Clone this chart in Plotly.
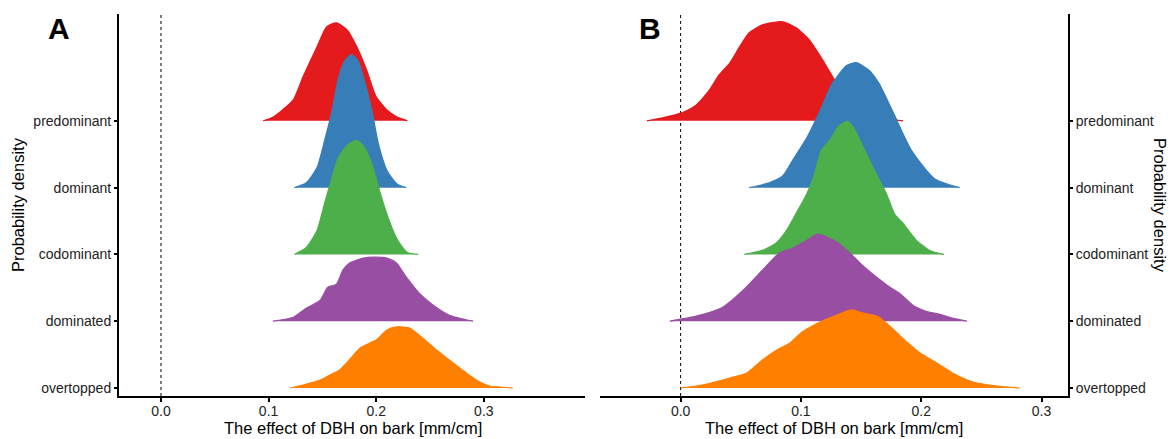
import plotly.graph_objects as go

categories = ["overtopped", "dominated", "codominant", "dominant", "predominant"]
colors = {"predominant": "#E41A1C", "dominant": "#377EB8", "codominant": "#4DAF4A",
          "dominated": "#984EA3", "overtopped": "#FF7F00"}
x_ticks = [0.0, 0.1, 0.2, 0.3]

# Panel A: effect values (x) and ridge density heights (relative units)
A_predominant_x = [0.095, 0.103, 0.113, 0.123, 0.132, 0.138, 0.145, 0.154, 0.163, 0.173, 0.182, 0.191, 0.200, 0.210, 0.219, 0.229]
A_predominant_d = [0, 3, 11, 21, 44, 58, 74, 94, 98, 91, 74, 51, 24, 11, 4, 0]
A_dominant_x = [0.124, 0.135, 0.145, 0.152, 0.159, 0.165, 0.171, 0.177, 0.183, 0.189, 0.196, 0.202, 0.210, 0.219, 0.228]
A_dominant_d = [0, 5, 20, 47, 77, 110, 127, 133, 127, 107, 77, 44, 17, 4, 0]
A_codominant_x = [0.124, 0.135, 0.145, 0.152, 0.159, 0.165, 0.173, 0.182, 0.189, 0.197, 0.203, 0.211, 0.220, 0.229, 0.239]
A_codominant_d = [0, 7, 24, 51, 77, 97, 109, 114, 107, 87, 64, 37, 14, 2, 0]
A_dominated_x = [0.104, 0.123, 0.135, 0.148, 0.155, 0.163, 0.169, 0.175, 0.188, 0.197, 0.210, 0.219, 0.228, 0.240, 0.253, 0.268, 0.290]
A_dominated_d = [0, 4, 13, 21, 34, 37, 51, 58, 63, 64, 63, 58, 44, 28, 16, 6, 0]
A_overtopped_x = [0.120, 0.132, 0.148, 0.157, 0.166, 0.175, 0.185, 0.194, 0.200, 0.210, 0.219, 0.231, 0.243, 0.256, 0.268, 0.280, 0.293, 0.305, 0.315, 0.327]
A_overtopped_d = [0, 3, 8, 13, 18, 28, 40, 45, 48, 58, 61, 60, 50, 38, 28, 18, 8, 2, 1, 0]

# Panel B
B_predominant_x = [-0.028, -0.015, 0.001, 0.013, 0.024, 0.032, 0.041, 0.049, 0.057, 0.068, 0.085, 0.096, 0.107, 0.118, 0.130, 0.140, 0.150, 0.160, 0.170, 0.185]
B_predominant_d = [0, 3, 8, 16, 31, 46, 58, 74, 88, 96, 99, 93, 81, 61, 37, 21, 11, 5, 2, 0]
B_dominant_x = [0.057, 0.074, 0.085, 0.093, 0.105, 0.116, 0.126, 0.138, 0.146, 0.157, 0.165, 0.176, 0.192, 0.211, 0.232]
B_dominant_d = [0, 5, 12, 27, 50, 77, 104, 122, 125, 117, 104, 77, 37, 9, 0]
B_codominant_x = [0.053, 0.068, 0.080, 0.088, 0.096, 0.105, 0.111, 0.117, 0.124, 0.132, 0.139, 0.145, 0.153, 0.161, 0.171, 0.178, 0.185, 0.196, 0.207, 0.219]
B_codominant_d = [0, 4, 12, 24, 41, 61, 79, 104, 114, 129, 133, 124, 104, 84, 61, 40, 31, 14, 4, 0]
B_dominated_x = [-0.009, 0.013, 0.035, 0.052, 0.068, 0.082, 0.093, 0.105, 0.114, 0.130, 0.140, 0.151, 0.163, 0.174, 0.182, 0.193, 0.204, 0.215, 0.226, 0.238]
B_dominated_d = [0, 5, 14, 31, 51, 68, 73, 81, 87, 79, 69, 56, 44, 34, 28, 16, 10, 7, 3, 0]
B_overtopped_x = [0.000, 0.018, 0.041, 0.055, 0.068, 0.080, 0.091, 0.101, 0.116, 0.130, 0.142, 0.151, 0.163, 0.171, 0.180, 0.188, 0.199, 0.213, 0.226, 0.243, 0.263, 0.282]
B_overtopped_d = [0, 3, 10, 15, 28, 38, 45, 56, 66, 73, 78, 75, 72, 65, 55, 46, 35, 25, 15, 6, 2, 0]

panels = {
    "A": {"predominant": (A_predominant_x, A_predominant_d), "dominant": (A_dominant_x, A_dominant_d),
          "codominant": (A_codominant_x, A_codominant_d), "dominated": (A_dominated_x, A_dominated_d),
          "overtopped": (A_overtopped_x, A_overtopped_d)},
    "B": {"predominant": (B_predominant_x, B_predominant_d), "dominant": (B_dominant_x, B_dominant_d),
          "codominant": (B_codominant_x, B_codominant_d), "dominated": (B_dominated_x, B_dominated_d),
          "overtopped": (B_overtopped_x, B_overtopped_d)},
}

SCALE = 1 / 66.75  # density units -> category spacing

W, H = 1176, 439
OFF = 8  # page body margin


def px(s):
    return (s - OFF) / W


def py(s):
    return (H - (s - OFF)) / H


fig = go.Figure()
axes = {"A": ("x", "y"), "B": ("x2", "y2")}
for p, ridges in panels.items():
    xa, ya = axes[p]
    for cat in reversed(categories):  # top ridges drawn first
        xs, ds = ridges[cat]
        base = categories.index(cat)
        ys = [base + d * SCALE for d in ds]
        fig.add_trace(go.Scatter(x=xs, y=ys, mode="lines", fill="toself",
                                 fillcolor=colors[cat],
                                 line=dict(color=colors[cat], width=1.2, shape="spline", smoothing=0.6),
                                 xaxis=xa, yaxis=ya, showlegend=False, hoverinfo="skip"))

FONT = "Liberation Sans, Arial, Helvetica"
xax_common = dict(showline=True, linecolor="black", linewidth=2, ticks="outside", ticklen=4,
                  tickcolor="black", tickwidth=1.5, showgrid=False, zeroline=False, automargin=False,
                  ticklabelstandoff=-3,
                  tickfont=dict(family=FONT, size=14, color="#222222"))
yax_common = dict(showline=True, linecolor="black", linewidth=2, ticks="outside", ticklen=3,
                  tickcolor="black", tickwidth=1.5, showgrid=False, zeroline=False, automargin=False,
                  tickfont=dict(family=FONT, size=14, color="#222222"))
ydom = [py(396), py(14)]
yrange = [-0.12, 5.60]

fig.update_layout(
    width=W, height=H, margin=dict(l=0, r=0, t=0, b=0, autoexpand=False),
    plot_bgcolor="white", paper_bgcolor="white",
    xaxis=dict(domain=[px(119), px(585)], range=[-0.039, 0.394], tickvals=x_ticks,
               tickformat=".1f", anchor="y", **xax_common),
    yaxis=dict(domain=ydom, range=yrange, tickvals=list(range(len(categories))), ticktext=categories,
               anchor="x", side="left", **yax_common),
    xaxis2=dict(domain=[px(600), px(1068)], range=[-0.067, 0.322], tickvals=x_ticks,
                tickformat=".1f", anchor="y2", **xax_common),
    yaxis2=dict(domain=ydom, range=yrange, tickvals=list(range(len(categories))), ticktext=categories,
                anchor="x2", side="right", **yax_common),
)

for xa in ["x", "x2"]:
    fig.add_shape(type="line", xref=xa, yref="paper", x0=0, x1=0, y0=ydom[0], y1=ydom[1],
                  line=dict(color="black", width=1, dash="dot"), layer="below")

title_font = dict(family=FONT, size=16.5, color="black")
ann = dict(xref="paper", yref="paper", showarrow=False, xanchor="center", yanchor="middle")
fig.add_annotation(text="The effect of DBH on bark [mm/cm]", x=px(353), y=py(428), font=title_font, **ann)
fig.add_annotation(text="The effect of DBH on bark [mm/cm]", x=px(834), y=py(428), font=title_font, **ann)
fig.add_annotation(text="Probability density", x=px(18), y=py(205), textangle=-90, font=title_font, **ann)
fig.add_annotation(text="Probability density", x=px(1160), y=py(205), textangle=90, font=title_font, **ann)
label_font = dict(family=FONT, size=30, color="black")
fig.add_annotation(text="<b>A</b>", x=px(59), y=py(29), font=label_font, **ann)
fig.add_annotation(text="<b>B</b>", x=px(650), y=py(29), font=label_font, **ann)

fig.write_html("out.html")
